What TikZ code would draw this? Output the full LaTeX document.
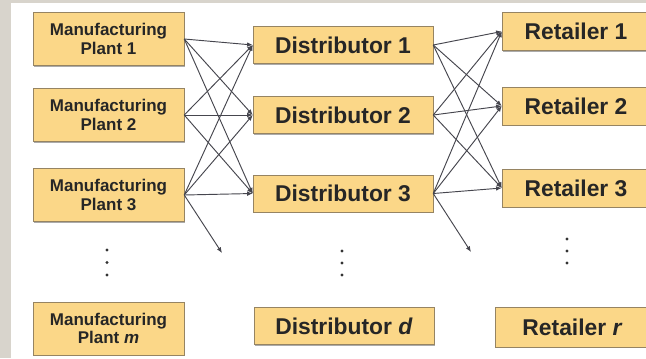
\documentclass[tikz,border=0pt]{standalone}
\usepackage{fontspec}
\setmainfont{Liberation Sans}
\usepackage{tikz}
\usetikzlibrary{arrows.meta,positioning,shadows}

\definecolor{boxfill}{RGB}{251,215,136}
\definecolor{boxline}{RGB}{150,132,98}
\definecolor{linkgray}{RGB}{70,70,78}
\definecolor{framegray}{RGB}{216,212,204}

\begin{document}
\begin{tikzpicture}[
  x=0.03cm, y=-0.03cm,
  every node/.style={align=center, text=black!85},
  stage/.style={rectangle, draw=boxline, fill=boxfill, inner sep=0pt,
    drop shadow={shadow xshift=0.6pt, shadow yshift=-0.9pt, opacity=0.55, fill=black!60}},
  plant/.style={stage, minimum width=4.53cm, minimum height=1.59cm,
    font=\fontsize{14.5}{15.5}\selectfont\bfseries},
  depot/.style={stage, minimum width=5.4cm, minimum height=1.11cm,
    font=\fontsize{19.5}{22}\selectfont\bfseries},
  shop/.style={stage, minimum width=4.44cm, minimum height=1.14cm,
    font=\fontsize{19.5}{22}\selectfont\bfseries},
  link/.style={-{Latex[length=1.7mm,width=1.4mm]}, draw=linkgray, line width=0.8pt},
  dot/.style={fill=black!80}
]

% frame and page
\useasboundingbox (0,0) rectangle (646,358);
\fill[framegray] (0,0) rectangle (646,358);
\fill[white] (11,3) rectangle (646,358);

% plants
\node[plant] (P1) at (108.5,39) {Manufacturing\\Plant 1};
\node[plant] (P2) at (108.5,115) {Manufacturing\\Plant 2};
\node[plant] (P3) at (108.5,195) {Manufacturing\\Plant 3};
\node[plant] (Pm) at (108.5,328.5) {Manufacturing\\Plant \textit{m}};

% distributors
\node[depot] (D1) at (343,45) {Distributor 1};
\node[depot] (D2) at (343,115) {Distributor 2};
\node[depot] (D3) at (343,193.5) {Distributor 3};
\node[depot] (Dd) at (344,326) {Distributor \textit{d}};

% retailers
\node[shop] (R1) at (576,31.5) {Retailer 1};
\node[shop] (R2) at (576,106) {Retailer 2};
\node[shop] (R3) at (576,188) {Retailer 3};
\node[shop, minimum width=4.65cm, minimum height=1.2cm] (Rr) at (572.5,327) {Retailer \textit{r}};

\coordinate (Pout) at (222,253);
\coordinate (Dout) at (471,252);

% plant -> distributor
\draw[link] (P1.east) -- (D1.west);
\draw[link] (P1.east) -- (D2.west);
\draw[link] (P1.east) -- (D3.west);
\draw[link] (P2.east) -- (D1.west);
\draw[link] (P2.east) -- (D2.west);
\draw[link] (P2.east) -- (D3.west);
\draw[link] (P3.east) -- (D1.west);
\draw[link] (P3.east) -- (D2.west);
\draw[link] (P3.east) -- (D3.west);
\draw[link] (P3.east) -- (Pout);

% distributor -> retailer
\draw[link] (D1.east) -- (R1.west);
\draw[link] (D1.east) -- (R2.west);
\draw[link] (D1.east) -- (R3.west);
\draw[link] (D2.east) -- (R1.west);
\draw[link] (D2.east) -- (R2.west);
\draw[link] (D2.east) -- (R3.west);
\draw[link] (D3.east) -- (R1.west);
\draw[link] (D3.east) -- (R2.west);
\draw[link] (D3.east) -- (R3.west);
\draw[link] (D3.east) -- (Dout);

% vertical dots
\fill[dot] (107,250) circle (1.7) (107,262.5) circle (1.7) (107,275) circle (1.7);
\fill[dot] (342,251) circle (1.7) (342,263) circle (1.7) (342,275) circle (1.7);
\fill[dot] (567,239) circle (1.7) (567,251) circle (1.7) (567,263) circle (1.7);

\end{tikzpicture}
\end{document}
